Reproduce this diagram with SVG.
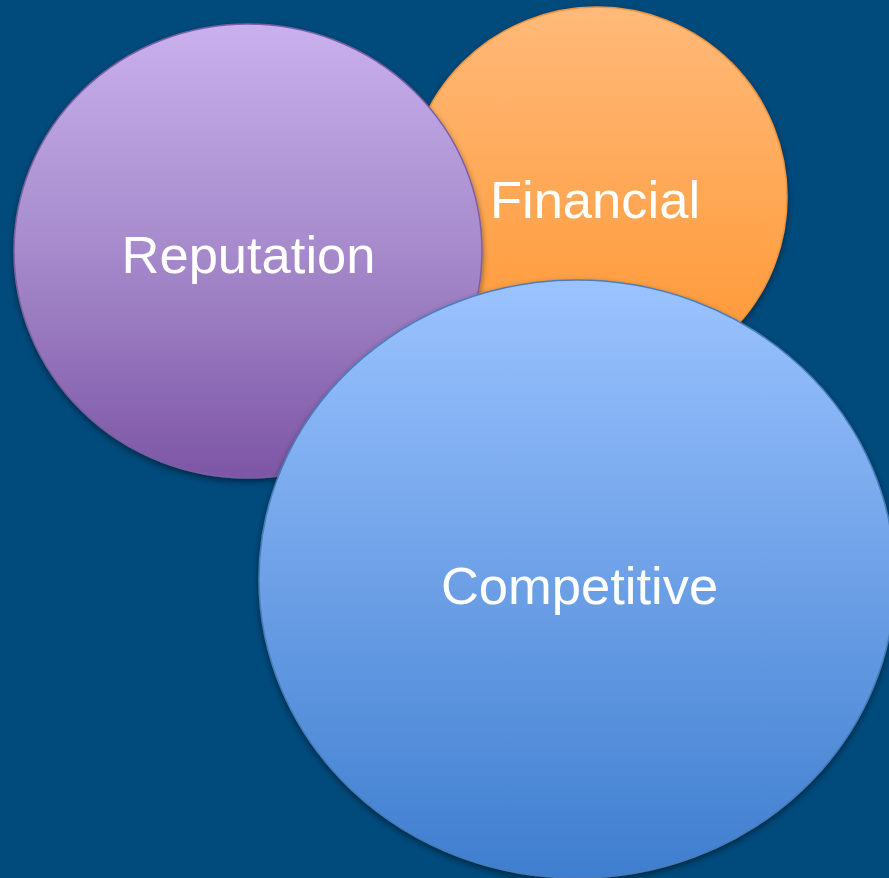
<svg xmlns="http://www.w3.org/2000/svg" width="889" height="878" viewBox="0 0 889 878">
  <defs>
    <linearGradient id="gradOrange" x1="0" y1="0" x2="0" y2="1">
      <stop offset="0" stop-color="#FFBA7A"/>
      <stop offset="1" stop-color="#FF9530"/>
    </linearGradient>
    <linearGradient id="gradPurple" x1="0" y1="0" x2="0" y2="1">
      <stop offset="0" stop-color="#C9B0EE"/>
      <stop offset="0.5" stop-color="#A68ACB"/>
      <stop offset="1" stop-color="#7D56A6"/>
    </linearGradient>
    <linearGradient id="gradBlue" x1="0" y1="0" x2="0" y2="1">
      <stop offset="0" stop-color="#9BC3FF"/>
      <stop offset="1" stop-color="#3F7ECF"/>
    </linearGradient>
    <filter id="shadow" x="-10%" y="-10%" width="120%" height="125%">
      <feDropShadow dx="0" dy="3" stdDeviation="3" flood-color="#000000" flood-opacity="0.45"/>
    </filter>
  </defs>
  <style>
    .label { font-family: "Liberation Sans", Arial, sans-serif; font-size: 52.5px; fill: #FFFFFF; text-anchor: middle; }
    .bubble { filter: url(#shadow); stroke-width: 1.5; }
  </style>

  <!-- background -->
  <rect x="0" y="0" width="889" height="878" fill="#004A7C"/>

  <g id="financial">
    <circle class="bubble" cx="597" cy="197" r="190" fill="url(#gradOrange)" stroke="#F5923A"/>
    <text class="label" x="595" y="218">Financial</text>
  </g>

  <g id="reputation">
    <ellipse class="bubble" cx="248" cy="251" rx="234" ry="227" fill="url(#gradPurple)" stroke="#7A5FA3"/>
    <text class="label" x="248.5" y="273">Reputation</text>
  </g>

  <g id="competitive">
    <ellipse class="bubble" cx="577" cy="579" rx="318" ry="299" fill="url(#gradBlue)" stroke="#4A7EBB"/>
    <text class="label" x="579.5" y="604">Competitive</text>
  </g>

  <g id="connectors"/>
</svg>
